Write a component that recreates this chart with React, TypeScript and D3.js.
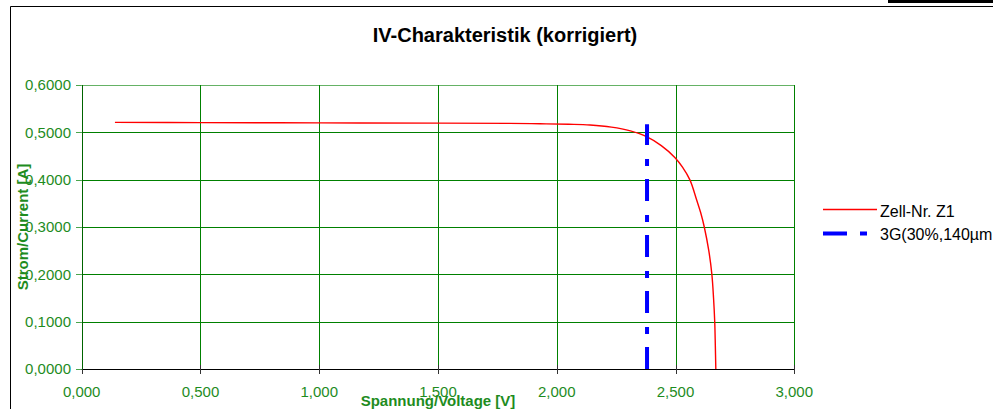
import React from "react";
import * as d3 from "d3";

const voltage = [0.14, 0.5, 1.0, 1.5, 1.8, 1.93, 2.05, 2.14, 2.23, 2.31, 2.378, 2.44, 2.497, 2.53, 2.561, 2.589, 2.606, 2.621, 2.640, 2.653, 2.660, 2.665, 2.6675, 2.6696];
const current = [0.521, 0.5205, 0.520, 0.5195, 0.519, 0.518, 0.517, 0.5155, 0.511, 0.503, 0.491, 0.472, 0.447, 0.426, 0.399, 0.357, 0.33, 0.30, 0.25, 0.20, 0.15, 0.10, 0.05, 0.0];
const markerV = [2.38, 2.38];
const markerI = [0, 0.517];
const xTicks = [0, 0.5, 1.0, 1.5, 2.0, 2.5, 3.0];
const yTicks = [0, 0.1, 0.2, 0.3, 0.4, 0.5, 0.6];
const seriesNames = ["Zell-Nr. Z1", "3G(30%,140µm"];

const W = 993, H = 409;
const green = "#008000";
const labelGreen = "#1e8c1e";
const font = "'Liberation Sans', Arial, sans-serif";

export default function App() {
  const x = d3.scaleLinear().domain([0, 3]).range([81.7, 794.3]);
  const y = d3.scaleLinear().domain([0, 0.6]).range([369, 85]);
  const fmtX = (v: number) => v.toFixed(3).replace(".", ",");
  const fmtY = (v: number) => v.toFixed(4).replace(".", ",");

  const redPts: [number, number][] = voltage.map((v, i) => [v, current[i]]);
  const redLine = d3.line<[number, number]>().x(d => x(d[0])).y(d => y(d[1])).curve(d3.curveCatmullRom.alpha(0.5));
  const bluePts: [number, number][] = markerV.map((v, i) => [v, markerI[i]]);
  const blueLine = d3.line<[number, number]>().x(d => x(d[0])).y(d => y(d[1]));

  return (
    <svg width={W} height={H} style={{ position: "absolute", left: 0, top: 0, background: "#fff" }} fontFamily={font}>
      <rect x={0} y={0} width={W} height={H} fill="#fff" />
      {/* top strip artifact */}
      <rect x={888} y={0} width={105} height={3} fill="#000" />
      {/* frame */}
      <line x1={10.5} y1={6.5} x2={W} y2={6.5} stroke="#000" strokeWidth={1} />
      <line x1={10.5} y1={6.5} x2={10.5} y2={H} stroke="#000" strokeWidth={1} />

      <text x={505} y={42} textAnchor="middle" fontSize={20} fontWeight="bold" fill="#000">IV-Charakteristik (korrigiert)</text>

      {/* grid */}
      {yTicks.map(t => (
        <line key={"gy" + t} x1={x(0)} x2={x(3)} y1={Math.round(y(t)) + 0.5} y2={Math.round(y(t)) + 0.5} stroke={green} strokeWidth={1} opacity={t === 0.6 ? 0.6 : 1} />
      ))}
      {xTicks.map(t => (
        <line key={"gx" + t} y1={y(0.6)} y2={y(0)} x1={Math.round(x(t)) + 0.5} x2={Math.round(x(t)) + 0.5} stroke={green} strokeWidth={1} />
      ))}
      {/* y axis ticks */}
      {yTicks.map(t => (
        <line key={"ty" + t} x1={76} x2={x(0)} y1={Math.round(y(t)) + 0.5} y2={Math.round(y(t)) + 0.5} stroke={green} strokeWidth={1} opacity={0.7} />
      ))}
      {/* x axis */}
      <line x1={x(0)} x2={x(3)} y1={369.5} y2={369.5} stroke="#000" strokeWidth={1} />
      {xTicks.map(t => (
        <line key={"tx" + t} y1={365} y2={374} x1={Math.round(x(t)) + 0.5} x2={Math.round(x(t)) + 0.5} stroke="#333" strokeWidth={1} />
      ))}
      {/* y axis line */}
      <line x1={Math.round(x(0)) + 0.5} x2={Math.round(x(0)) + 0.5} y1={y(0.6)} y2={369} stroke="#006400" strokeWidth={1} />

      {/* tick labels */}
      {yTicks.map(t => (
        <text key={"ly" + t} x={71} y={y(t) + 5.3} textAnchor="end" fontSize={15} fill={labelGreen}>{fmtY(t)}</text>
      ))}
      {xTicks.map(t => (
        <text key={"lx" + t} x={x(t)} y={396.5} textAnchor="middle" fontSize={15} fill={labelGreen}>{fmtX(t)}</text>
      ))}

      {/* axis titles */}
      <text x={438} y={405.5} textAnchor="middle" fontSize={15} fontWeight="bold" fill={labelGreen}>Spannung/Voltage [V]</text>
      <text transform={`translate(28,227) rotate(-90)`} textAnchor="middle" fontSize={15} fontWeight="bold" fill={labelGreen}>Strom/Current [A]</text>

      {/* series */}
      <path d={redLine(redPts) || ""} fill="none" stroke="#ff0000" strokeWidth={1.4} />
      <path d={blueLine(bluePts) || ""} fill="none" stroke="#0000ff" strokeWidth={4} strokeDasharray="22 13 7 14" />

      {/* legend */}
      <line x1={823} x2={877} y1={209.5} y2={209.5} stroke="#ff0000" strokeWidth={1.5} />
      <text x={880} y={217} fontSize={16} fill="#000">{seriesNames[0]}</text>
      <line x1={823} x2={870} y1={233.5} y2={233.5} stroke="#0000ff" strokeWidth={4} strokeDasharray="24 13 7 14" />
      <text x={880} y={240} fontSize={16} fill="#000">{seriesNames[1]}</text>
    </svg>
  );
}
